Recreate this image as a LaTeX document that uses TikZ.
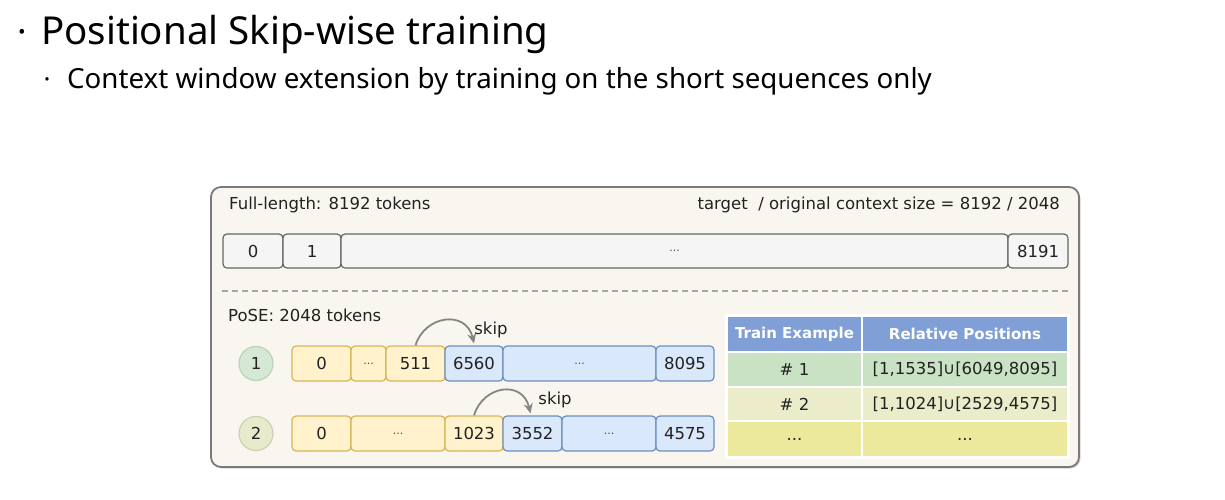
\documentclass[tikz,border=0pt]{standalone}
\usepackage{fontspec}
\setmainfont{DejaVu Sans}
\newfontfamily\titlefont{Noto Sans}
\usetikzlibrary{arrows.meta,shadows}

\definecolor{framegray}{HTML}{7A7A7A}
\definecolor{cream}{HTML}{F8F6EE}
\definecolor{tokgray}{HTML}{F5F5F5}
\definecolor{tokgrayline}{HTML}{666666}
\definecolor{yfill}{HTML}{FFF2CC}
\definecolor{yline}{HTML}{D6B656}
\definecolor{bfill}{HTML}{DAE8FC}
\definecolor{bline}{HTML}{6C8EBF}
\definecolor{hdrblue}{HTML}{7F9FD6}
\definecolor{rowone}{HTML}{C8E2C3}
\definecolor{rowtwo}{HTML}{EBECCA}
\definecolor{rowthree}{HTML}{ECE99C}
\definecolor{circone}{HTML}{D5E8D4}
\definecolor{circoneline}{HTML}{B9D2B8}
\definecolor{circtwo}{HTML}{E8EBCB}
\definecolor{circtwoline}{HTML}{CDD0B4}
\definecolor{skipgray}{HTML}{858585}
\definecolor{textdark}{HTML}{222222}

\newcommand{\dfont}{\fontsize{16.5}{19}\selectfont}

\tikzset{
  token/.style={rounded corners=4, line width=1.2, minimum height=34, inner sep=0,
                font=\dfont, text=textdark},
  graytok/.style={token, draw=tokgrayline, fill=tokgray},
  yeltok/.style={token, draw=yline, fill=yfill, minimum height=35},
  blutok/.style={token, draw=bline, fill=bfill, minimum height=35},
  elide/.style={font=\fontsize{11}{13}\selectfont, text=black!70},
  badge/.style={circle, minimum size=34, inner sep=0, line width=1.2, font=\dfont, text=textdark},
  cell/.style={inner sep=0, font=\dfont, text=textdark},
  hdrcell/.style={cell, fill=hdrblue, text=white, font=\fontsize{15}{18}\selectfont\bfseries},
  skiparrow/.style={draw=skipgray, line width=1.8, -{Stealth[length=10, width=9]}},
  lbl/.style={font=\dfont, text=textdark, inner sep=0},
}

\begin{document}
\begin{tikzpicture}[x=1pt, y=-1pt]
\useasboundingbox (0,0) rectangle (1225,499);
\fill[white] (0,0) rectangle (1225,499);

% slide heading
\node[anchor=base, inner sep=0, font=\titlefont\fontsize{36}{40}\selectfont] (bulA) at (22,44) {·};
\node[anchor=base west, inner sep=0, font=\titlefont\fontsize{38.5}{44}\selectfont] (title) at (41,44) {Positional Skip-wise training};
\node[anchor=base, inner sep=0, font=\titlefont\fontsize{26}{30}\selectfont] (bulB) at (47,88) {·};
\node[anchor=base west, inner sep=0, font=\titlefont\fontsize{27.7}{32}\selectfont] (subtitle) at (67,88) {Context window extension by training on the short sequences only};

% framed panel
\node[draw=framegray, fill=cream, rounded corners=10, line width=1.8, minimum width=868,
      minimum height=280, inner sep=0,
      drop shadow={shadow xshift=1.5pt, shadow yshift=-1.5pt, opacity=0.35}] (frame) at (645,327) {};

\node[lbl, anchor=base west] (fulllbl) at (229,209) {Full-length: 8192 tokens};
\node[lbl, anchor=base east] (ratio) at (1060,209) {target\ \ / original context size = 8192 / 2048};

% full-length token row
\node[graytok, minimum width=60] (f0) at (253,251) {0};
\node[graytok, minimum width=58] (f1) at (312,251) {1};
\node[graytok, minimum width=667] (fmid) at (674.5,251) {};
\node[elide] (fmiddots) at (fmid) {...};
\node[graytok, minimum width=60] (f8191) at (1038,251) {8191};

\draw[black!35, line width=1.2, dash pattern=on 6pt off 4pt] (f0.south west |- 0,291) coordinate (dashL) -- (f8191.south east |- 0,291) coordinate (dashR);

\node[lbl, anchor=base west] (poselbl) at (228,321) {PoSE: 2048 tokens};

% example 1
\node[badge, draw=circoneline, fill=circone] (c1) at (256,363.5) {1};
\node[yeltok, minimum width=59] (a0) at (321.5,363.5) {0};
\node[yeltok, minimum width=35] (adots) at (368.5,363.5) {};
\node[elide] at (adots) {...};
\node[yeltok, minimum width=59] (a511) at (415.5,363.5) {511};
\node[blutok, minimum width=58] (a6560) at (474,363.5) {6560};
\node[blutok, minimum width=153] (bdots) at (579.5,363.5) {};
\node[elide] at (bdots) {...};
\node[blutok, minimum width=58] (a8095) at (685,363.5) {8095};

\draw[skiparrow] (a511.north) .. controls +(9,-30) and +(-8,-34) .. ([yshift=2pt]a6560.north);
\node[lbl] (skipA) at (491,330) {skip};

% example 2
\node[badge, draw=circtwoline, fill=circtwo] (c2) at (256,433.5) {2};
\node[yeltok, minimum width=59] (b0) at (321.5,433.5) {0};
\node[yeltok, minimum width=94] (cdots) at (398,433.5) {};
\node[elide] at (cdots) {...};
\node[yeltok, minimum width=58] (b1023) at (474,433.5) {1023};
\node[blutok, minimum width=59] (b3552) at (532.5,433.5) {3552};
\node[blutok, minimum width=94] (ddots) at (609,433.5) {};
\node[elide] at (ddots) {...};
\node[blutok, minimum width=58] (b4575) at (685,433.5) {4575};

\draw[skiparrow] (b1023.north) .. controls +(9,-30) and +(-8,-34) .. ([xshift=-2pt,yshift=2pt]b3552.north);
\node[lbl] (skipB) at (555,400) {skip};

% table of relative positions
\node[fill=white, minimum width=345, minimum height=145, inner sep=0] (tbl) at (897.5,386.5) {};
\node[hdrcell, minimum width=133, minimum height=34] (h1) at (794.5,334) {Train Example};
\node[hdrcell, minimum width=204, minimum height=34] (h2) at (965,334) {Relative Positions};
\node[cell, fill=rowone, minimum width=133, minimum height=33] (r1a) at (794.5,369.5) {\# 1};
\node[cell, fill=rowone, minimum width=204, minimum height=33] (r1b) at (965,369.5) {[1,1535]∪[6049,8095]};
\node[cell, fill=rowtwo, minimum width=133, minimum height=32] (r2a) at (794.5,404) {\# 2};
\node[cell, fill=rowtwo, minimum width=204, minimum height=32] (r2b) at (965,404) {[1,1024]∪[2529,4575]};
\node[cell, fill=rowthree, minimum width=133, minimum height=34] (r3a) at (794.5,439) {...};
\node[cell, fill=rowthree, minimum width=204, minimum height=34] (r3b) at (965,439) {...};
\end{tikzpicture}
\end{document}
